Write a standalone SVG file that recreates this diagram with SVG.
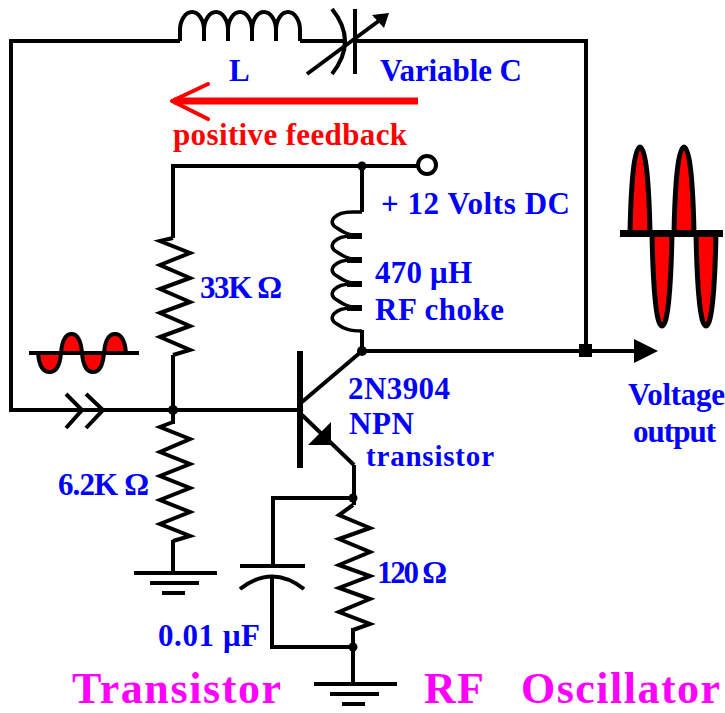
<svg xmlns="http://www.w3.org/2000/svg" width="725" height="713" viewBox="0 0 725 713">
<style>
.w{fill:none;stroke:#000;stroke-width:4;stroke-linejoin:miter}
.t{font-family:"Liberation Serif","Times New Roman",serif;font-weight:bold}
.b{fill:#0000ff;font-size:31px}
.m{fill:#ff00ff;font-size:44px}
.r{fill:#ff0000;font-size:31px}
.s{fill:#ff0000;stroke:#000;stroke-width:5}
</style>
<rect width="725" height="713" fill="#fff"/>
<g id="connectors">
<path class="w" d="M180 41H11V410H300"/>
<path class="w" d="M343 41H300M355 41H586V351"/>
<path class="w" d="M173 238V166H418"/>
<path class="w" d="M362 166V212"/>
<path class="w" d="M362 330V351H634"/>
<path class="w" d="M173 355V410V424"/>
<path class="w" d="M173 540V573"/>
<path class="w" d="M354 465V505M353 628V684"/>
<path class="w" d="M353 498H273V566"/>
<path class="w" d="M272 578V647H353"/>
</g>
<g id="junctions">
<circle cx="173" cy="410" r="5"/>
<circle cx="362" cy="166" r="4.5"/>
<circle cx="362" cy="351" r="5"/>
<rect x="579" y="344" width="13" height="13"/>
<circle cx="353" cy="498" r="4.5"/>
<circle cx="353" cy="647" r="4.5"/>
</g>
<g id="inductor-L">
<path class="w" d="M180 41V30A12 18 0 0 1 204 30V41V30A12 18 0 0 1 228 30V41V30A12 18 0 0 1 252 30V41V30A12 18 0 0 1 276 30V41V30A12 18 0 0 1 300 30V41"/>
<text class="t b" x="229" y="81">L</text>
</g>
<g id="variable-capacitor">
<path class="w" d="M332 9Q358 41 332 74"/>
<path class="w" d="M355 9V74"/>
<path class="w" d="M307 74L380 20"/>
<polygon points="389,13 372,15 384,28"/>
<text class="t b" x="380" y="81" textLength="142">Variable C</text>
</g>
<g id="feedback-arrow">
<path d="M172 101L208 84M172 101L208 119" fill="none" stroke="#ff0000" stroke-width="4" stroke-linecap="round"/>
<path d="M174 101H418" fill="none" stroke="#ff0000" stroke-width="7"/>
<text class="t r" x="173" y="145" textLength="234">positive feedback</text>
</g>
<g id="supply">
<circle cx="427" cy="165" r="9" fill="#fff" stroke="#000" stroke-width="4"/>
<text class="t b" x="381" y="214" textLength="189">+ 12 Volts DC</text>
</g>
<g id="r-33k">
<path class="w" d="M173 238L160 241L190 253L160 265L190 278L160 289L190 302L160 313L190 326L160 337L190 350L173 355"/>
<text class="t b" x="200" y="298" textLength="82">33K Ω</text>
</g>
<g id="r-6k2">
<path class="w" d="M173 422L160 427L190 439L160 452L190 464L160 476L190 488L160 500L190 512L160 524L190 536L173 541"/>
<text class="t b" x="58" y="495" textLength="91">6.2K Ω</text>
</g>
<g id="ground-1">
<path class="w" d="M134 573H217M150 583H199M162 593H185"/>
</g>
<g id="rf-choke">
<path class="w" style="stroke-width:3.5" d="M362 212H352C335 212 326 222 337 228C344 233 350 236 362 236H352C335 236 326 246 337 252C344 257 350 260 362 260H352C335 260 326 270 337 276C344 281 350 284 362 284H352C335 284 326 294 337 300C344 305 350 308 362 308H352C335 308 326 318 337 324C344 329 350 331 362 331"/>
<path d="M347 236H362M347 260H362M347 284H362M347 308H362" stroke="#000" stroke-width="6"/>
<text class="t b" x="375" y="283" textLength="97">470 μH</text>
<text class="t b" x="375" y="320" textLength="129">RF choke</text>
</g>
<g id="transistor">
<rect x="297" y="351" width="6" height="117"/>
<path class="w" d="M302 402L362 351"/>
<path class="w" d="M302 415L354 465"/>
<polygon points="308,445 331,422 331,445"/>
<text class="t b" x="348" y="399" textLength="102">2N3904</text>
<text class="t b" x="349" y="434" textLength="65">NPN</text>
<text class="t b" x="366" y="466" textLength="128" style="font-size:29px">transistor</text>
</g>
<g id="r-120">
<path class="w" d="M353 505L339 515L370 528L339 539L370 552L339 565L370 576L339 588L370 599L339 612L370 624L353 630"/>
<text class="t b" x="377" y="583" textLength="70">120 Ω</text>
</g>
<g id="capacitor-001">
<path class="w" d="M240 566H305"/>
<path class="w" d="M240 589Q272 564 304 589"/>
<text class="t b" x="158" y="646" textLength="102">0.01 μF</text>
</g>
<g id="ground-2">
<path class="w" d="M314 684H397M330 694H379M342 704H365"/>
</g>
<g id="input-signal">
<path class="s" style="stroke-width:4" d="M38 353C39 365 43 372 49.5 372C56 372 60 365 61 353Z"/>
<path class="s" style="stroke-width:4" d="M61 353C62 341 65 334 71.5 334C78 334 81 341 82 353Z"/>
<path class="s" style="stroke-width:4" d="M82 353C83 365 87 372 93 372C99 372 103 365 104 353Z"/>
<path class="s" style="stroke-width:4" d="M104 353C105 341 109 334 115 334C121 334 125 341 126 353Z"/>
<path class="w" d="M29 353H139"/>
<path class="w" d="M66 394L82 410L66 428M86 394L103 410L86 428"/>
</g>
<g id="output-signal">
<path class="s" d="M630 233C631 185 634 147 640 147C646 147 649 185 650 233Z"/>
<path class="s" d="M652 233C653 285 656 326 662 326C668 326 671 285 672 233Z"/>
<path class="s" d="M674 233C675 185 678 147 684 147C690 147 693 185 694 233Z"/>
<path class="s" d="M696 233C697 285 700 326 706 326C712 326 715 285 716 233Z"/>
<rect x="620" y="230" width="103" height="7"/>
</g>
<g id="output-arrow">
<polygon points="634,339 658,351 634,363"/>
<text class="t b" x="628" y="405" textLength="97">Voltage</text>
<text class="t b" x="633" y="442" textLength="83">output</text>
</g>
<g id="title">
<text class="t m" x="72" y="703" textLength="209">Transistor</text>
<text class="t m" x="424" y="703" textLength="60">RF</text>
<text class="t m" x="521" y="703" textLength="199">Oscillator</text>
</g>
</svg>
